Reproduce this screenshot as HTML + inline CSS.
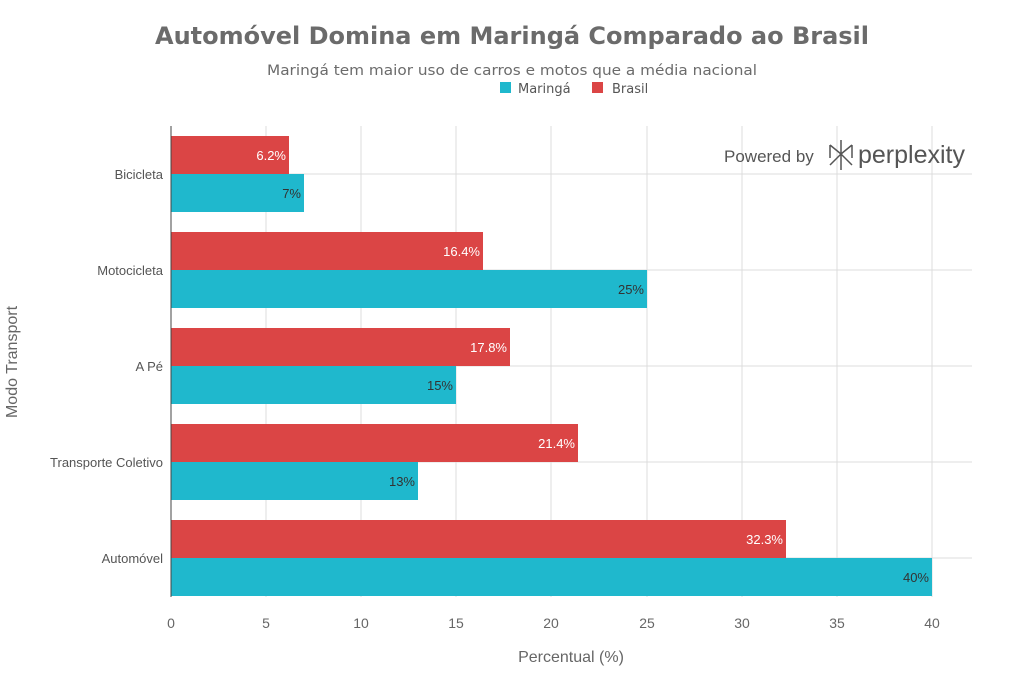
<!DOCTYPE html>
<html><head><meta charset="utf-8"><style>
body{margin:0;background:#fff;width:1024px;height:683px;overflow:hidden}
text{font-family:"Liberation Sans","DejaVu Sans",sans-serif}
.dv{font-family:"DejaVu Sans",sans-serif}
</style></head><body>
<svg width="1024" height="683" xmlns="http://www.w3.org/2000/svg">
<text class="dv" x="512" y="44" text-anchor="middle" font-size="24" font-weight="bold" fill="#6b6b6b" textLength="714" lengthAdjust="spacingAndGlyphs">Automóvel Domina em Maringá Comparado ao Brasil</text>
<text class="dv" x="512" y="75" text-anchor="middle" font-size="14" fill="#6b6b6b" textLength="490" lengthAdjust="spacingAndGlyphs">Maringá tem maior uso de carros e motos que a média nacional</text>
<rect x="500" y="82" width="11" height="11" fill="#1fb8cd"/><text class="dv" x="518" y="93" font-size="13" fill="#555">Maringá</text>
<rect x="592" y="82" width="11" height="11" fill="#db4545"/><text class="dv" x="612" y="93" font-size="13" fill="#555">Brasil</text>
<g stroke="#dcdcdc" stroke-width="1">
<line x1="266" y1="126" x2="266" y2="597"/><line x1="361" y1="126" x2="361" y2="597"/><line x1="456" y1="126" x2="456" y2="597"/><line x1="551" y1="126" x2="551" y2="597"/><line x1="647" y1="126" x2="647" y2="597"/><line x1="742" y1="126" x2="742" y2="597"/><line x1="837" y1="126" x2="837" y2="597"/><line x1="932" y1="126" x2="932" y2="597"/>
<line x1="171" y1="174" x2="972" y2="174"/><line x1="171" y1="270" x2="972" y2="270"/><line x1="171" y1="366" x2="972" y2="366"/><line x1="171" y1="462" x2="972" y2="462"/><line x1="171" y1="558" x2="972" y2="558"/>
</g>
<g fill="#db4545">
<rect x="171" y="136" width="118" height="38"/><rect x="171" y="232" width="312" height="38"/><rect x="171" y="328" width="339" height="38"/><rect x="171" y="424" width="407" height="38"/><rect x="171" y="520" width="615" height="38"/>
</g>
<g fill="#1fb8cd">
<rect x="171" y="174" width="133" height="38"/><rect x="171" y="270" width="476" height="38"/><rect x="171" y="366" width="285" height="38"/><rect x="171" y="462" width="247" height="38"/><rect x="171" y="558" width="761" height="38"/>
</g>
<line x1="171" y1="126" x2="171" y2="597" stroke="#444" stroke-width="1"/>
<g font-size="13" text-anchor="end" fill="#fff">
<text x="286" y="160">6.2%</text><text x="480" y="256">16.4%</text><text x="507" y="352">17.8%</text><text x="575" y="448">21.4%</text><text x="783" y="544">32.3%</text>
</g>
<g font-size="13" text-anchor="end" fill="#333">
<text x="301" y="198">7%</text><text x="644" y="294">25%</text><text x="453" y="390">15%</text><text x="415" y="486">13%</text><text x="929" y="582">40%</text>
</g>
<g font-size="13" text-anchor="end" fill="#555">
<text x="163" y="179">Bicicleta</text><text x="163" y="275">Motocicleta</text><text x="163" y="371">A Pé</text><text x="163" y="467">Transporte Coletivo</text><text x="163" y="563">Automóvel</text>
</g>
<g font-size="14" text-anchor="middle" fill="#666">
<text x="171" y="628">0</text><text x="266" y="628">5</text><text x="361" y="628">10</text><text x="456" y="628">15</text><text x="551" y="628">20</text><text x="647" y="628">25</text><text x="742" y="628">30</text><text x="837" y="628">35</text><text x="932" y="628">40</text>
</g>
<text x="571" y="662" text-anchor="middle" font-size="16" fill="#666">Percentual (%)</text>
<text transform="translate(17,362) rotate(-90)" text-anchor="middle" font-size="16" fill="#666">Modo Transport</text>
<text x="724" y="162" font-size="17" fill="#555">Powered by</text>
<g stroke="#555" stroke-width="1.5" fill="none"><path d="M841 140v30M830 145l11 9 11-9M830 165l11-11 11 11M830 145v13M852 145v13"/></g>
<text x="858" y="163" font-size="25" fill="#555">perplexity</text>
</svg>
</body></html>
